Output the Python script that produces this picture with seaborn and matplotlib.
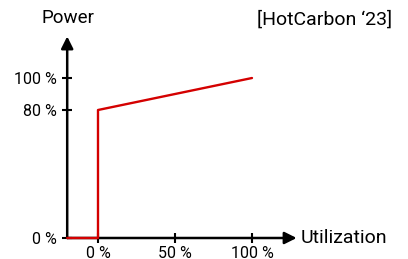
import matplotlib
matplotlib.use("Agg")
import matplotlib.pyplot as plt
import pandas as pd
import seaborn as sns

# power model: idle at 0 until utilization 0 %, jumps to 80 %, linear to 100 %
utilization = [-20, 0, 0, 100]
power = [0, 0, 80, 100]
x_ticks = [0, 50, 100]
x_labels = ["0 %", "50 %", "100 %"]
y_ticks = [0, 80, 100]
y_labels = ["0 %", "80 %", "100 %"]

sns.set_style("white")
plt.rcParams["font.family"] = ["Roboto", "DejaVu Sans"]

df = pd.DataFrame({"Utilization": utilization, "Power": power})

fig = plt.figure(figsize=(4.08, 2.59), dpi=100)
ax = fig.add_axes([0.1647, 0.0811, 0.585, 0.803])

sns.lineplot(data=df, x="Utilization", y="Power", sort=False, estimator=None,
             color="#d40000", linewidth=1.7, ax=ax, zorder=5, clip_on=False)

ax.set_xlim(-20, 135)
ax.set_ylim(0, 130)
for s in ax.spines.values():
    s.set_visible(False)

ax.set_xticks(x_ticks)
ax.set_xticklabels(x_labels)
ax.set_yticks(y_ticks)
ax.set_yticklabels(y_labels)
ax.tick_params(axis="both", direction="inout", length=7, width=1.5,
               color="black", labelsize=11.5, labelcolor="black",
               left=True, bottom=True)
ax.tick_params(axis="x", pad=2)
ax.tick_params(axis="y", pad=4)
ax.set_xlabel("")
ax.set_ylabel("")

# axes drawn as arrows
arrow = dict(arrowstyle="-|>", mutation_scale=18, lw=1.8, color="black",
             shrinkA=0, shrinkB=0)
ax.annotate("", xy=(129, 0), xytext=(-20, 0), arrowprops=arrow,
            annotation_clip=False, zorder=1)
ax.annotate("", xy=(-20, 126), xytext=(-20, 0), arrowprops=arrow,
            annotation_clip=False, zorder=1)

ax.text(131.5, 0, "Utilization", fontsize=14, va="center", ha="left",
        color="black", clip_on=False)
fig.text(68 / 408, 1 - 18 / 259, "Power", fontsize=13.5, va="center",
         ha="center", color="black")
fig.text(392 / 408, 1 - 20 / 259, "[HotCarbon \u201823]", fontsize=14,
         va="center", ha="right", color="black")

fig.savefig("out.png", dpi=100)
